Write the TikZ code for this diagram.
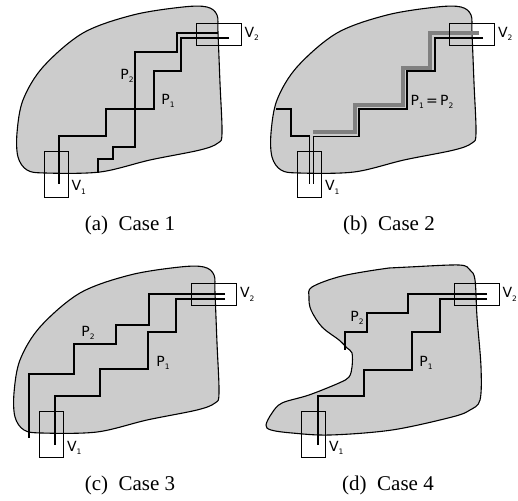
\documentclass[tikz,border=0pt]{standalone}
\usepackage{fontspec}
\setmainfont{Liberation Serif}
\setsansfont{DejaVu Sans}
\usetikzlibrary{positioning}

\definecolor{regiongray}{RGB}{204,204,204}
\definecolor{sharedgray}{RGB}{128,128,128}
\newcommand{\lab}[2]{#1\raisebox{-0.45ex}{\fontsize{7.5}{7.5}\selectfont #2}}

\tikzset{
	region/.style={draw=black, fill=regiongray, line width=1.1pt},
	route/.style={draw=black, line width=1.2pt},
	shared/.style={draw=sharedgray, line width=3.3pt},
	vbox/.style={draw=black, line width=0.9pt, minimum width=24pt, minimum height=46pt, inner sep=0pt},
	hbox/.style={draw=black, line width=0.9pt, minimum width=45pt, minimum height=22pt, inner sep=0pt},
	vlabel/.style={font=\sffamily\fontsize{14}{14}\selectfont, inner sep=0pt},
	plabel/.style={font=\sffamily\fontsize{14}{14}\selectfont, inner sep=0pt},
	caption/.style={font=\fontsize{21}{24}\selectfont, inner sep=0pt},
}

\begin{document}
\begin{tikzpicture}[x=1pt, y=-1pt]
		\useasboundingbox (0,0) rectangle (518,500);
		% regions
		\foreach \dx/\dy in {0/0, 254/0, -3/260}
		{
			\draw[region, shift={(\dx,\dy)}] plot[smooth cycle, tension=0.55] coordinates {
				(17,133) (23,100) (43,67) (83,33) (133,15) (183,7) (207,7) (217,15) (218,33) (220,83)
				(222,133) (218,143) (200,150) (150,160) (100,172) (45,173) (27,170) (18,157)};
		}
		\draw[region] plot[smooth cycle, tension=0.55] coordinates {
			(312,287) (342,276) (389,268) (409,267) (459,265) (470,270) (475,280) (477,317) (481,367)
			(480,400) (470,410) (452,417) (392,430) (330,435) (292,433) (271,430) (266,425) (272,413)
			(282,403) (309,395) (339,383) (349,377) (352,367) (352,353) (347,348) (339,340) (322,327)
			(311,310) (309,297)};

		% (a) Case 1
		\draw[route] (218,33)--(177,33)--(177,52)--(135,52)--(135,147)--(113,147)--(113,159)--(98,159)--(98,173);
		\draw[route] (229,38)--(181,38)--(181,71)--(154,71)--(154,109)--(106,109)--(106,136)--(59,136)--(59,184);
		\node[hbox] (v2a) at (218.5,34) {};
		\node[vbox] (v1a) at (56,174) {};
		\node[vlabel, right=3pt of v2a.east] {\lab{V}{2}};
		\node[vlabel, anchor=south west] at ([xshift=3pt, yshift=3pt]v1a.south east) {\lab{V}{1}};
		\node[plabel] (p2a) at (127,76) {\lab{P}{2}};
		\node[plabel] (p1a) at (168,101) {\lab{P}{1}};
		\node[caption] (capa) at (130,225) {(a)\hspace{0.5em}Case 1};

		% (b) Case 2
		\draw[shared] (479,33)--(430,33)--(430,68)--(403,68)--(403,105)--(355,105)--(355,132)--(313,132);
		\draw[route] (483,38)--(435,38)--(435,71)--(407,71)--(407,109)--(359,109)--(359,136.5)--(313.5,136.5)--(313.5,184);
		\draw[route] (276,109)--(291,109)--(291,136)--(309.5,136)--(309.5,184);
		\node[hbox] (v2b) at (472,34) {};
		\node[vbox] (v1b) at (309.5,174) {};
		\node[vlabel, right=3pt of v2b.east] {\lab{V}{2}};
		\node[vlabel, anchor=south west] at ([xshift=3pt, yshift=3pt]v1b.south east) {\lab{V}{1}};
		\node[plabel] (p12b) at (432,102) {\lab{P}{1}\,=\,\lab{P}{2}};
		\node[caption] (capb) at (389,225) {(b)\hspace{0.5em}Case 2};

		% (c) Case 3
		\draw[route] (225,294)--(149,294)--(149,325)--(116,325)--(116,344)--(74,344)--(74,374)--(29,374)--(29,438);
		\draw[route] (225,299)--(176,299)--(176,332)--(148,332)--(148,369)--(100,369)--(100,396)--(55,396)--(55,445);
		\node[hbox] (v2c) at (214,294.5) {};
		\node[vbox] (v1c) at (51.5,434.5) {};
		\node[vlabel, right=3pt of v2c.east] {\lab{V}{2}};
		\node[vlabel, anchor=south west] at ([xshift=3pt, yshift=3pt]v1c.south east) {\lab{V}{1}};
		\node[plabel] (p2c) at (88,333) {\lab{P}{2}};
		\node[plabel] (p1c) at (163,363) {\lab{P}{1}};
		\node[caption] (capc) at (130,485) {(c)\hspace{0.5em}Case 3};

		% (d) Case 4
		\draw[route] (487,294)--(408,294)--(408,313)--(367,313)--(367,332)--(345,332)--(345,350);
		\draw[route] (487,299)--(440,299)--(440,332)--(412,332)--(412,370)--(364,370)--(364,396)--(318,396)--(318,445);
		\node[hbox] (v2d) at (476.5,294.5) {};
		\node[vbox] (v1d) at (313.5,434.5) {};
		\node[vlabel, right=3pt of v2d.east] {\lab{V}{2}};
		\node[vlabel, anchor=south west] at ([xshift=3pt, yshift=3pt]v1d.south east) {\lab{V}{1}};
		\node[plabel] (p2d) at (357,318) {\lab{P}{2}};
		\node[plabel] (p1d) at (426,363) {\lab{P}{1}};
		\node[caption] (capd) at (388,485) {(d)\hspace{0.5em}Case 4};
	\end{tikzpicture}
\end{document}
